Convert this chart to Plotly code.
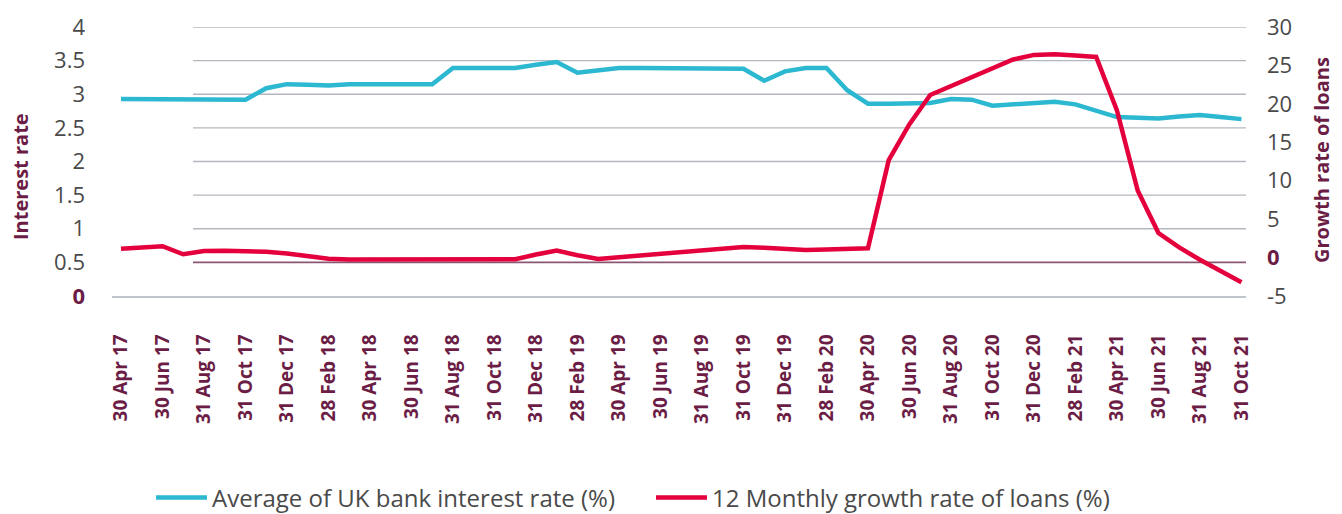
import plotly.graph_objects as go

# ---------------- data ----------------
tick_labels = [
    "30 Apr 17", "30 Jun 17", "31 Aug 17", "31 Oct 17", "31 Dec 17",
    "28 Feb 18", "30 Apr 18", "30 Jun 18", "31 Aug 18", "31 Oct 18", "31 Dec 18",
    "28 Feb 19", "30 Apr 19", "30 Jun 19", "31 Aug 19", "31 Oct 19", "31 Dec 19",
    "28 Feb 20", "30 Apr 20", "30 Jun 20", "31 Aug 20", "31 Oct 20", "31 Dec 20",
    "28 Feb 21", "30 Apr 21", "30 Jun 21", "31 Aug 21", "31 Oct 21",
]

# monthly series, Apr 2017 .. Oct 2021 (55 months)
interest_rate = [
    2.93, 2.93, 2.93, 2.93, 2.93, 2.92, 2.92, 3.09, 3.15, 3.14,
    3.13, 3.15, 3.15, 3.15, 3.15, 3.15, 3.39, 3.39, 3.39, 3.39,
    3.44, 3.48, 3.32, 3.35, 3.39, 3.39, 3.39, 3.39, 3.39, 3.39,
    3.38, 3.20, 3.34, 3.39, 3.39, 3.06, 2.86, 2.86, 2.86, 2.87,
    2.93, 2.92, 2.83, 2.85, 2.87, 2.89, 2.85, 2.75, 2.66, 2.65,
    2.64, 2.67, 2.69, 2.66, 2.63,
]

loan_growth = [
    1.16, 1.34, 1.47, 0.43, 0.85, 0.89, 0.83, 0.76, 0.52, 0.18,
    -0.14, -0.26, -0.26, -0.26, -0.26, -0.26, -0.26, -0.26, -0.26, -0.22,
    0.39, 0.90, 0.31, -0.17, 0.05, 0.27, 0.49, 0.71, 0.93, 1.15,
    1.37, 1.29, 1.12, 0.99, 1.06, 1.12, 1.20, 12.67, 17.36, 21.15,
    22.30, 23.44, 24.70, 25.77, 26.37, 26.44, 26.28, 26.11, 19.15, 8.72,
    3.20, 1.32, -0.28, -1.74, -3.20,
]

left_ticks = [0, 0.5, 1, 1.5, 2, 2.5, 3, 3.5, 4]
right_ticks = [-5, 0, 5, 10, 15, 20, 25, 30]

series_names = ["Average of UK bank interest rate (%)", "12 Monthly growth rate of loans (%)"]

# ---------------- style ----------------
BLUE = "#2bb8d0"
RED = "#e4003d"
PURPLE = "#6b1d45"
TXT = "#4a4a4a"
GRID = "#b4b8be"
FONT = "Open Sans"

# the page body has an 8px margin, so the figure is drawn 8px smaller
W, H = 1334, 506
PL, PR, PT, PB = 104, 1238, 19, 288   # plot area in figure pixels

months = list(range(len(interest_rate)))
tickvals = [2 * i for i in range(len(tick_labels))]


def fmt(v):
    s = "%g" % v
    if v == 0:
        return '<span style="color:%s"><b>%s</b></span>' % (PURPLE, s)
    return s


def px_x(x):   # reference-screen pixel -> paper x
    return (x - 8 - PL) / (PR - PL)


def px_y(y):   # reference-screen pixel -> paper y
    return (PB - (y - 8)) / (PB - PT)


fig = go.Figure()
fig.add_trace(go.Scatter(
    x=months, y=interest_rate, name=series_names[0], mode="lines",
    line=dict(color=BLUE, width=4.5), yaxis="y", cliponaxis=False,
))
fig.add_trace(go.Scatter(
    x=months, y=loan_growth, name=series_names[1], mode="lines",
    line=dict(color=RED, width=4.5), yaxis="y2", cliponaxis=False,
))

shapes = []
for v in left_ticks[1:]:
    shapes.append(dict(
        type="line", xref="paper", yref="y", x0=px_x(193), x1=1, y0=v, y1=v,
        line=dict(color="#8a5672" if v == 0.5 else GRID, width=1.8 if v == 0.5 else 1.3),
        layer="below",
    ))

fig.update_layout(
    width=W, height=H,
    margin=dict(l=PL, r=W - PR, t=PT, b=H - PB, autoexpand=False),
    paper_bgcolor="white", plot_bgcolor="white",
    font=dict(family=FONT, color=TXT, size=21),
    showlegend=True,
    legend=dict(
        orientation="h", x=px_x(151), xanchor="left",
        y=px_y(498), yanchor="middle",
        font=dict(family=FONT, size=24, color=TXT),
        entrywidth=434, entrywidthmode="pixels",
        itemwidth=51, traceorder="normal", bgcolor="rgba(0,0,0,0)",
    ),
    xaxis=dict(
        range=[-0.434, 54.22], tickvals=tickvals, ticktext=tick_labels,
        tickangle=-90, tickfont=dict(family=FONT, size=19, color=PURPLE, weight="bold"),
        showgrid=False, zeroline=False, showline=True, linecolor="#c0c5cc", linewidth=1.6,
        ticks="", ticklabelstandoff=29, automargin=False,
    ),
    yaxis=dict(
        range=[0, 4], tickvals=left_ticks, ticktext=[fmt(v) for v in left_ticks],
        tickfont=dict(family=FONT, size=22, color=TXT),
        showgrid=False, zeroline=False, showline=False, ticks="",
        ticklabelstandoff=26, automargin=False,
    ),
    yaxis2=dict(
        range=[-5, 30], tickvals=right_ticks, ticktext=[fmt(v) for v in right_ticks],
        tickfont=dict(family=FONT, size=22, color=TXT),
        overlaying="y", side="right", showgrid=False, zeroline=False, showline=False,
        ticks="", ticklabelstandoff=20, automargin=False,
    ),
    shapes=shapes,
    annotations=[
        dict(text="<b>Interest rate</b>", xref="paper", yref="paper",
             x=px_x(20), y=px_y(177), textangle=-90,
             xanchor="center", yanchor="middle", showarrow=False,
             font=dict(family=FONT, size=20, color=PURPLE)),
        dict(text="<b>Growth rate of loans</b>", xref="paper", yref="paper",
             x=px_x(1321), y=px_y(160), textangle=-90,
             xanchor="center", yanchor="middle", showarrow=False,
             font=dict(family=FONT, size=20, color=PURPLE)),
    ],
)

fig.write_html("out.html")
